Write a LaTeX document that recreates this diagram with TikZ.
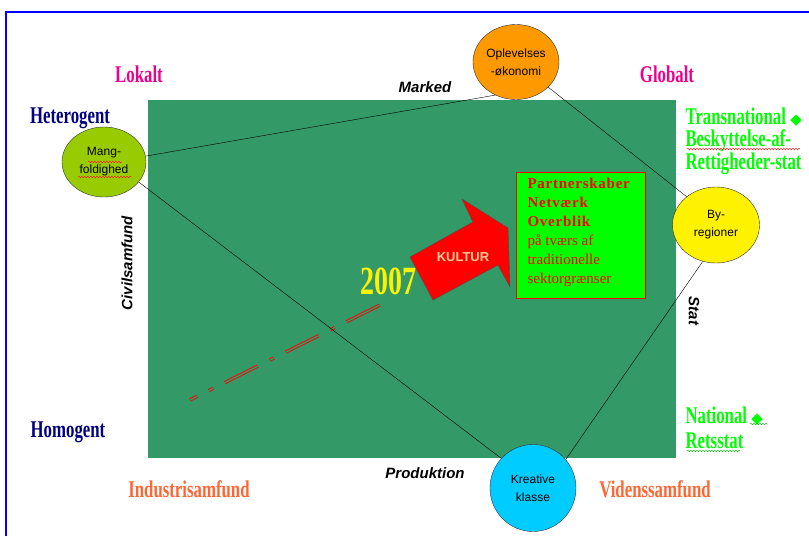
\documentclass[tikz,border=0pt]{standalone}
\usepackage{fontspec}
\setmainfont{Liberation Serif}
\setsansfont{Liberation Sans}
\newfontfamily\condfont[FakeStretch=0.7]{Liberation Serif}
\newfontfamily\symfont{DejaVu Sans}
\usepackage{tikz}
\usetikzlibrary{shapes.geometric,backgrounds,decorations.pathmorphing}
\definecolor{feltgroen}{HTML}{339966}
\definecolor{lysgroen}{HTML}{00FF00}
\definecolor{oransje}{HTML}{FF9900}
\definecolor{gulgroen}{HTML}{99CC00}
\definecolor{himmelblaa}{HTML}{00CCFF}
\definecolor{koral}{HTML}{FF6633}
\definecolor{marine}{HTML}{000080}
\definecolor{hudfarve}{HTML}{FFCC99}
\newcommand{\ruder}{{\symfont\fontsize{15}{15}\selectfont ◆}}

\begin{document}
\begin{tikzpicture}[x=1pt,y=-1pt,
  boble/.style={ellipse,draw=black!80,inner sep=0pt,align=center,
    font=\sffamily\fontsize{12}{18}\selectfont},
  overskrift/.style={font=\condfont\bfseries\fontsize{24}{26}\selectfont},
  akse/.style={font=\sffamily\bfseries\itshape\fontsize{15}{17}\selectfont},
  squig/.style={draw=#1,line width=0.4pt,decorate,
    decoration={snake,amplitude=0.8pt,segment length=3pt}}]
\useasboundingbox (0,0) rectangle (809,536);
\draw[blue,line width=1.2pt] (6,536) -- (6,12) -- (809,12);
\node[boble,fill=oransje,minimum width=86pt,minimum height=75pt] (oplevelse) at (516,62) {Oplevelses\\-økonomi};
\node[boble,fill=gulgroen,minimum width=84pt,minimum height=70pt] (mangfold) at (104,162) {Mang-\\foldighed};
\node[boble,fill=yellow,minimum width=87pt,minimum height=76pt] (byregion) at (716,225) {By-\\regioner};
\node[boble,fill=himmelblaa,minimum width=86pt,minimum height=87pt] (kreativ) at (533,488) {Kreative\\klasse};
\coordinate (sporstart) at (190,400);
\coordinate (sporslut) at (390,300);
\begin{scope}[on background layer]
\fill[feltgroen] (148,100) rectangle (676,458);
\draw[draw=red,double=feltgroen,line width=0.9pt,double distance=1.5pt,
  dash pattern=on 37pt off 13pt on 5pt off 13pt,dash phase=29pt] (sporstart) -- (sporslut);
\draw (mangfold.8) -- (oplevelse.238);
\draw (oplevelse.322) -- (byregion.136);
\draw (mangfold.330) -- (kreativ.137);
\draw (byregion.250) -- (kreativ.41);
\end{scope}
\draw[fill=red,draw=black!70] (410,257) -- (473,222) -- (462,199) -- (508,228) -- (510,287) -- (498,265) -- (433,300) -- cycle;
\node[font=\sffamily\bfseries\fontsize{13}{14}\selectfont,text=hudfarve] (kultur) at (463,257) {KULTUR};
\node[draw=red,fill=lysgroen,minimum width=129pt,minimum height=126pt] (samarbejde) at (580.5,235) {};
\node[anchor=north west,align=left,text=red,font=\fontsize{15}{19}\selectfont] (samtekst) at (524,175)
  {\bfseries\addfontfeature{LetterSpace=5}Partnerskaber\\\bfseries\addfontfeature{LetterSpace=5}Netværk\\\bfseries\addfontfeature{LetterSpace=5}Overblik\\på tværs af\\traditionelle\\sektorgrænser};
\node[overskrift,text=yellow,font=\condfont\bfseries\fontsize{40}{42}\selectfont] (aar) at (388,281) {2007};
\node[overskrift,text=magenta] (lokalt) at (139,74) {Lokalt};
\node[overskrift,text=magenta] (globalt) at (667,74) {Globalt};
\node[overskrift,text=marine] (hetero) at (70,118) {Heterogent};
\node[overskrift,text=marine] (homo) at (68,432) {Homogent};
\node[overskrift,text=koral] (industri) at (189,489) {Industrisamfund};
\node[overskrift,text=koral] (viden) at (655,489) {Videnssamfund};
\node[overskrift,text=lysgroen,anchor=west] (transnat) at (682,117) {Transnational \ruder};
\node[overskrift,text=lysgroen,anchor=west] (beskyt) at (682,141) {Beskyttelse-af-};
\node[overskrift,text=lysgroen,anchor=west] (rettig) at (682,164) {Rettigheder-stat};
\node[overskrift,text=lysgroen,anchor=west] (national) at (682,416) {National \ruder};
\node[overskrift,text=lysgroen,anchor=west] (retsstat) at (682,441) {Retsstat};
\node[akse] (marked) at (425,87) {Marked};
\node[akse] (produktion) at (425,473) {Produktion};
\node[akse,rotate=90] (civil) at (127,263) {Civilsamfund};
\node[akse,rotate=-90] (stat) at (694,311) {Stat};
\draw[squig=red] (687,149) -- (800,149);
\draw[squig=lysgroen!70!black] (687,451) -- (740,451);
\draw[squig=lysgroen!70!black] (750,424) -- (768,424);
\draw[squig=red] (88,162) -- (122,162);
\draw[squig=red] (78,177) -- (132,177);
\end{tikzpicture}
\end{document}
